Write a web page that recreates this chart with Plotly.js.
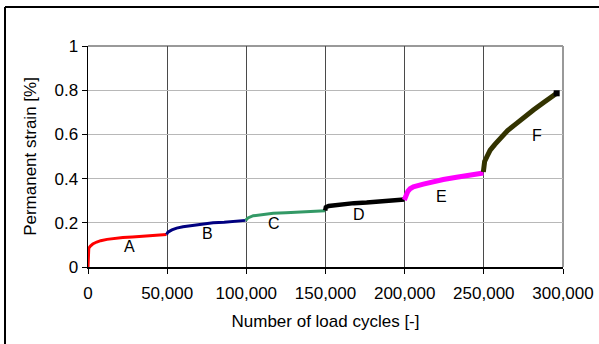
<!DOCTYPE html>
<html>
<head>
<meta charset="utf-8">
<script src="https://cdn.plot.ly/plotly-3.0.1.min.js"></script>
<style>html,body{margin:0;padding:0;background:#fff;}#chart{width:599px;height:344px;}</style>
</head>
<body>
<div id="chart"></div>
<script>
// Segment A (red)
var xA = [0, 150, 500, 1500, 3000, 5500, 8000, 12000, 16000, 22000, 28000, 35000, 42000, 49600];
var yA = [0, 0.07, 0.085, 0.095, 0.104, 0.113, 0.119, 0.125, 0.129, 0.133, 0.136, 0.14, 0.143, 0.147];
// Segment B (navy)
var xB = [49600, 50500, 53000, 56000, 60000, 66500, 72000, 79000, 86000, 93000, 99500];
var yB = [0.147, 0.158, 0.168, 0.176, 0.182, 0.189, 0.194, 0.2, 0.203, 0.206, 0.211];
// Segment C (green)
var xC = [99500, 101000, 104400, 110000, 117000, 125000, 134000, 142000, 149800];
var yC = [0.211, 0.222, 0.232, 0.238, 0.243, 0.246, 0.25, 0.252, 0.255];
// Segment D (black)
var xD = [149800, 150200, 152000, 156000, 161000, 168000, 176000, 184000, 192000, 197000, 199800];
var yD = [0.256, 0.27, 0.276, 0.28, 0.285, 0.289, 0.292, 0.296, 0.298, 0.3, 0.305];
// Segment E (magenta)
var xE = [199800, 200500, 202000, 203400, 205500, 211800, 218200, 224400, 232800, 237000, 243000, 249700];
var yE = [0.303, 0.322, 0.342, 0.354, 0.363, 0.375, 0.388, 0.396, 0.406, 0.412, 0.418, 0.425];
// Segment F (dark olive)
var xF = [249700, 250000, 250500, 252000, 254000, 257000, 260200, 265000, 270700, 276000, 281300, 288000, 296000];
var yF = [0.43, 0.455, 0.478, 0.5, 0.529, 0.555, 0.58, 0.617, 0.65, 0.682, 0.71, 0.745, 0.786];

var segLabels = ['A', 'B', 'C', 'D', 'E', 'F'];
var labelX = [25900, 75300, 117300, 171400, 223400, 283800];
var labelY = [0.095, 0.151, 0.196, 0.237, 0.321, 0.597];

var xTickVals = [0, 50000, 100000, 150000, 200000, 250000, 300000];
var xTickText = ['0', '50,000', '100,000', '150,000', '200,000', '250,000', '300,000'];
var yTickVals = [0, 0.2, 0.4, 0.6, 0.8, 1];
var yTickText = ['0', '0.2', '0.4', '0.6', '0.8', '1'];

function seg(x, y, color, width) {
  return {x: x, y: y, type: 'scatter', mode: 'lines', line: {color: color, width: width}, hoverinfo: 'skip', showlegend: false};
}

var traces = [
  seg(xA, yA, '#ff0000', 3),
  seg(xB, yB, '#000080', 3),
  seg(xC, yC, '#339966', 3),
  seg(xD, yD, '#000000', 4.5),
  seg(xE, yE, '#ff00ff', 5),
  seg(xF, yF, '#333300', 5),
  {x: [xF[xF.length - 1]], y: [yF[yF.length - 1]], type: 'scatter', mode: 'markers',
   marker: {symbol: 'square', color: '#000000', size: 6}, showlegend: false, hoverinfo: 'skip'}
];

var annotations = segLabels.map(function (t, i) {
  return {x: labelX[i], y: labelY[i], text: t, showarrow: false, xref: 'x', yref: 'y',
          font: {family: 'Liberation Sans, Arial, sans-serif', size: 16, color: '#000'}};
});

var L = 88, R = 36, T = 46, B = 77, W = 599, H = 344;
var pw = W - L - R, ph = H - T - B;
function px(v) { return (v - L) / pw; }
function py(v) { return (H - B - v) / ph; }

var layout = {
  width: W, height: H,
  margin: {l: L, r: R, t: T, b: B, pad: 0},
  paper_bgcolor: '#ffffff', plot_bgcolor: '#ffffff',
  font: {family: 'Liberation Sans, Arial, sans-serif', size: 17, color: '#000'},
  showlegend: false,
  xaxis: {
    range: [0, 300000], tickvals: xTickVals, ticktext: xTickText,
    showgrid: true, gridcolor: '#4a4a4a', gridwidth: 1,
    showline: true, linecolor: '#000000', linewidth: 1.5,
    ticks: 'outside', ticklen: 5, tickcolor: '#000', tickwidth: 1,
    ticklabelstandoff: 5,
    zeroline: false, fixedrange: true,
    title: {text: 'Number of load cycles [-]', font: {size: 17}, standoff: 13}
  },
  yaxis: {
    range: [0, 1], tickvals: yTickVals, ticktext: yTickText,
    showgrid: true, gridcolor: '#b8b8b8', gridwidth: 1,
    showline: true, linecolor: '#000000', linewidth: 1.5,
    ticks: 'outside', ticklen: 5, tickcolor: '#000', tickwidth: 1,
    zeroline: false, fixedrange: true,
    title: {text: 'Permanent strain [%]', font: {size: 17}, standoff: 13}
  },
  annotations: annotations,
  shapes: [
    {type: 'line', xref: 'paper', yref: 'paper', x0: 0, x1: 1, y0: 1, y1: 1, line: {color: '#999999', width: 2}, layer: 'below'},
    {type: 'line', xref: 'paper', yref: 'paper', x0: 1, x1: 1, y0: 0, y1: 1, line: {color: '#999999', width: 2}, layer: 'below'},
    {type: 'line', xref: 'paper', yref: 'paper', x0: px(5), x1: px(640), y0: py(7), y1: py(7), line: {color: '#000000', width: 2}},
    {type: 'line', xref: 'paper', yref: 'paper', x0: px(5), x1: px(5), y0: py(7), y1: py(400), line: {color: '#000000', width: 2}}
  ]
};

Plotly.newPlot('chart', traces, layout, {staticPlot: true, displayModeBar: false});
</script>
</body>
</html>
